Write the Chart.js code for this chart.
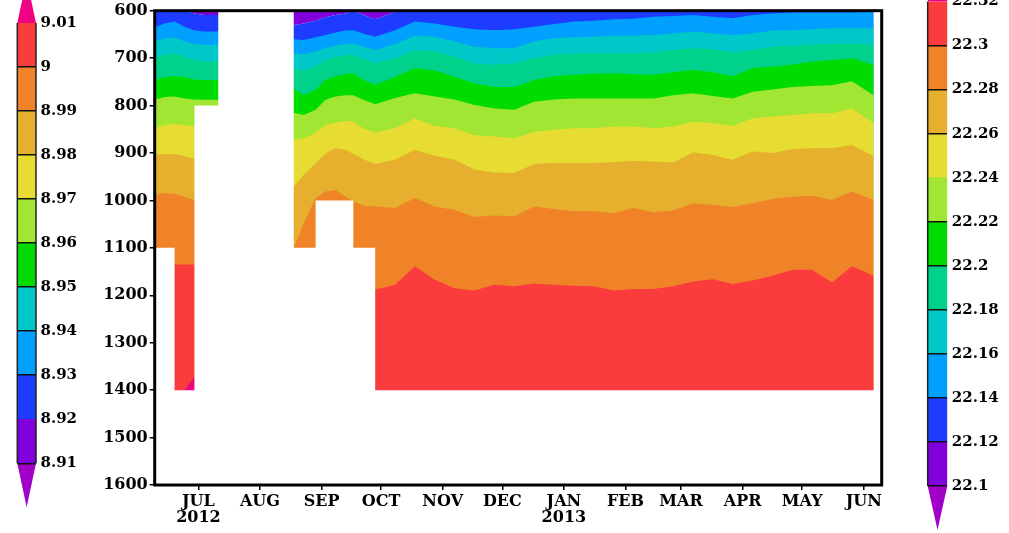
<!DOCTYPE html>
<html>
<head>
<meta charset="utf-8">
<script src="https://cdn.jsdelivr.net/npm/chart.js@4.4.1/dist/chart.umd.min.js"></script>
<style>
  html, body { margin: 0; padding: 0; background: #fff; overflow: hidden; width: 1009px; height: 533px; position: relative; }
  canvas { position: absolute; display: block; }
  #main { left: 0; top: 0; }
  #barL { left: 0; top: -60px; }
  #barR { left: 900px; top: -60px; }
</style>
</head>
<body>
<canvas id="main" width="1009" height="533"></canvas>
<canvas id="barL" width="95" height="653"></canvas>
<canvas id="barR" width="109" height="653"></canvas>
<script>
// ---- time axis: days after 2012-06-23 ----
const days = [0, 5, 10, 15, 20, 25, 32,
  70, 75, 81, 86, 91, 96, 100, 105, 111,
  121, 131, 141, 151, 161, 171, 181, 191, 201, 211, 221, 231, 241, 251, 261, 271, 281, 291, 301, 311, 321, 331, 341, 351, 362];

// ---- depth (m) of each isoline, per sample time ----
const c2212 = [600, 600, 600, 600, 606, 609, 609,
  630, 627, 621, 614, 609, 606, 600, 609, 618,
  603, 600, 600, 600, 600, 601, 601, 600, 600, 600, 600, 600, 600, 600, 600, 600, 600, 600, 600, 600, 600, 600, 600, 600, 600];
const c2214 = [635, 627, 623, 634, 642, 644, 644,
  660, 662, 656, 651, 646, 642, 641, 648, 655,
  641, 623, 627, 634, 639, 641, 639, 634, 628, 623, 621, 618, 617, 613, 611, 609, 613, 616, 609, 606, 604, 604, 604, 604, 600];
const c2216 = [665, 659, 656, 665, 670, 672, 672,
  690, 692, 686, 679, 674, 670, 669, 676, 683,
  670, 653, 655, 665, 676, 679, 679, 665, 658, 656, 655, 653, 653, 651, 648, 644, 648, 651, 648, 642, 641, 639, 637, 637, 637];
const c2218 = [700, 693, 690, 697, 704, 707, 707,
  721, 726, 718, 704, 698, 694, 693, 702, 710,
  701, 684, 686, 697, 711, 714, 711, 700, 693, 690, 690, 690, 690, 688, 683, 679, 681, 688, 683, 676, 674, 672, 670, 669, 672];
const c2220 = [746, 740, 738, 740, 745, 746, 746,
  764, 778, 767, 746, 738, 734, 732, 746, 756,
  740, 721, 726, 739, 753, 761, 761, 746, 738, 735, 733, 732, 734, 735, 730, 725, 730, 738, 721, 718, 714, 707, 704, 700, 714];
const c2222 = [788, 782, 781, 785, 787, 788, 788,
  815, 820, 809, 788, 781, 778, 778, 788, 797,
  784, 774, 781, 787, 799, 806, 809, 792, 787, 785, 785, 785, 785, 785, 778, 774, 780, 785, 771, 766, 761, 759, 757, 749, 778];
const c2224 = [848, 841, 839, 841, 844, 845, 845,
  872, 869, 858, 841, 836, 832, 834, 848, 857,
  848, 827, 843, 848, 862, 865, 869, 855, 851, 848, 848, 844, 844, 848, 844, 834, 837, 843, 827, 823, 820, 816, 816, 806, 837];
const c2226 = [904, 902, 902, 907, 912, 912, 912,
  971, 946, 922, 901, 890, 893, 902, 913, 923,
  914, 893, 906, 914, 935, 941, 942, 923, 921, 921, 921, 919, 917, 918, 920, 899, 904, 914, 897, 900, 892, 890, 890, 883, 907];
const c2228 = [988, 985, 986, 993, 999, 999, 999,
  1100, 1048, 995, 981, 978, 992, 1002, 1011, 1013,
  1016, 995, 1013, 1020, 1035, 1032, 1034, 1013, 1018, 1023, 1023, 1027, 1016, 1025, 1021, 1006, 1009, 1014, 1006, 997, 992, 990, 999, 981, 999];
const c2230 = [1135, 1135, 1135, 1135, 1135, 1135, 1135,
  1190, 1190, 1190, 1190, 1190, 1190, 1190, 1190, 1188,
  1178, 1139, 1167, 1185, 1190, 1178, 1181, 1175, 1178, 1180, 1181, 1190, 1187, 1187, 1181, 1171, 1166, 1176, 1169, 1159, 1146, 1146, 1173, 1139, 1159];
const c2232 = [1400, 1400, 1400, 1400, 1373, 1400, 1400,
  1400, 1400, 1400, 1400, 1400, 1400, 1400, 1400, 1400,
  1400, 1400, 1400, 1400, 1400, 1400, 1400, 1400, 1400, 1400, 1400, 1400, 1400, 1400, 1400, 1400, 1400, 1400, 1400, 1400, 1400, 1400, 1400, 1400, 1400];

// ---- deepest valid depth of the record (no data below it) ----
const maskDays  = [0, 10, 10, 20, 20, 32, 32, 70, 70, 81, 81, 100, 100, 111, 111, 362, 362, 366];
const maskDepth = [1100, 1100, 1400, 1400, 800, 800, 600, 600, 1100, 1100, 1000, 1000, 1100, 1100, 1400, 1400, 600, 600];

// ---- axis ticks ----
const depthTicks = [600, 700, 800, 900, 1000, 1100, 1200, 1300, 1400, 1500, 1600];
const monthNames = ['JUL', 'AUG', 'SEP', 'OCT', 'NOV', 'DEC', 'JAN', 'FEB', 'MAR', 'APR', 'MAY', 'JUN'];
const monthYears = ['2012', '', '', '', '', '', '2013', '', '', '', '', ''];

// ---- colour bar levels ----
const leftLevels  = [8.91, 8.92, 8.93, 8.94, 8.95, 8.96, 8.97, 8.98, 8.99, 9, 9.01];
const rightLevels = [22.1, 22.12, 22.14, 22.16, 22.18, 22.2, 22.22, 22.24, 22.26, 22.28, 22.3, 22.32];
const leftBare  = [8.92, 9.01];
const rightBare = [22.24, 22.32];

// ---- palette ----
const PURPLE = '#8200dc', BLUE = '#1e3cff', AZURE = '#00a0ff', CYAN = '#00c8c8', TEAL = '#00d28c',
      GREEN = '#00dc00', LIME = '#a0e632', YELLOW = '#e6dc32', GOLD = '#e6af2d', ORANGE = '#f08228',
      RED = '#fa3c3c', PINK = '#f00082', VIOLET = '#a000c8';
const FAMILY = "'DejaVu Serif', serif";

// month ticks sit on the 15th of each month
const DAY0 = Date.UTC(2012, 5, 23);
const monthDays = monthNames.map((_, i) => (Date.UTC(2012, 6 + i, 15) - DAY0) / 86400000);

function series(xs, ys) { return xs.map((x, i) => ({ x, y: ys[i] })); }
function band(ys, color, fill) {
  return { data: series(days, ys), backgroundColor: color, fill,
           borderWidth: 0, borderColor: 'rgba(0,0,0,0)', pointRadius: 0, pointHoverRadius: 0, tension: 0 };
}

// Filled bands are painted bottom-up: later datasets are drawn first.
const datasets = [
  { data: series(maskDays, maskDepth), backgroundColor: '#fff', fill: 'start',
    borderWidth: 0, borderColor: 'rgba(0,0,0,0)', pointRadius: 0, tension: 0 },
  band(c2232, PINK, 'start'),
  band(c2230, RED, 'start'),
  band(c2228, ORANGE, 'start'),
  band(c2226, GOLD, 'start'),
  band(c2224, YELLOW, 'start'),
  band(c2222, LIME, 'start'),
  band(c2220, GREEN, 'start'),
  band(c2218, TEAL, 'start'),
  band(c2216, CYAN, 'start'),
  band(c2214, AZURE, 'start'),
  band(c2212, BLUE, 'start'),
  band(c2212, PURPLE, 'end')
];

const frame = {
  id: 'frame',
  afterDatasetsDraw(chart) {
    const { ctx, chartArea: a } = chart;
    ctx.save();
    ctx.strokeStyle = '#000';
    ctx.lineWidth = 3;
    ctx.strokeRect(a.left, a.top, a.right - a.left, a.bottom - a.top);
    ctx.restore();
  }
};

const axisFont = { family: FAMILY, size: 16, weight: 'bold', lineHeight: 1.05 };

new Chart(document.getElementById('main'), {
  type: 'line',
  data: { datasets },
  options: {
    responsive: false, animation: false, devicePixelRatio: 1, events: [],
    layout: { padding: { left: 94.7, right: 127.3, top: 10.7, bottom: 0 } },
    plugins: { legend: { display: false }, tooltip: { enabled: false } },
    scales: {
      x: {
        type: 'linear', min: 0, max: 366,
        afterFit(s) { s.height = 48; },
        afterBuildTicks(s) { s.ticks = monthDays.map(v => ({ value: v })); },
        border: { display: false },
        grid: { drawOnChartArea: false, drawTicks: true, tickLength: 5, color: '#000', lineWidth: 1.5 },
        ticks: { autoSkip: false, maxRotation: 0, padding: 3, color: '#000', font: axisFont,
                 callback: (v, i) => monthYears[i] ? [monthNames[i], monthYears[i]] : monthNames[i] }
      },
      y: {
        type: 'linear', reverse: true, min: 600, max: 1600,
        afterFit(s) { s.width = 60; },
        afterBuildTicks(s) { s.ticks = depthTicks.map(v => ({ value: v })); },
        border: { display: false },
        grid: { drawOnChartArea: false, drawTicks: true, tickLength: 5, color: '#000', lineWidth: 1.5 },
        ticks: { padding: 2, color: '#000', font: axisFont, callback: v => String(v) }
      }
    }
  },
  plugins: [frame]
});

// ---- colour bars ----
const colorbarEnds = {
  id: 'colorbarEnds',
  afterDatasetsDraw(chart, args, opts) {
    const { ctx, chartArea: a } = chart;
    const y = chart.scales.y;
    const cx = (a.left + a.right) / 2;
    ctx.save();
    for (const end of [opts.top, opts.bottom]) {
      const base = y.getPixelForValue(end.from);
      const tip = y.getPixelForValue(end.tip);
      ctx.beginPath();
      ctx.moveTo(a.left, base);
      ctx.lineTo(a.right, base);
      ctx.lineTo(cx, tip);
      ctx.closePath();
      ctx.fillStyle = end.color;
      ctx.fill();
    }
    const yTop = y.getPixelForValue(opts.top.from);
    const yBot = y.getPixelForValue(opts.bottom.from);
    ctx.strokeStyle = '#222';
    ctx.lineWidth = 1.5;
    for (const side of opts.edges) {
      const x = side === 'left' ? a.left : a.right;
      ctx.beginPath();
      ctx.moveTo(x, yTop);
      ctx.lineTo(x, yBot);
      ctx.stroke();
    }
    ctx.restore();
  }
};

function colorbar(id, levels, colors, bare, ends, pad, axisWidth) {
  new Chart(document.getElementById(id), {
    type: 'bar',
    data: {
      labels: [''],
      datasets: colors.map((c, i) => ({
        data: [[levels[i], levels[i + 1]]], backgroundColor: c, borderWidth: 0,
        grouped: false, barPercentage: 1, categoryPercentage: 1
      }))
    },
    options: {
      responsive: false, animation: false, devicePixelRatio: 1, events: [],
      layout: { padding: pad },
      plugins: { legend: { display: false }, tooltip: { enabled: false }, colorbarEnds: ends },
      scales: {
        x: { display: false },
        y: {
          position: 'right', min: levels[0], max: levels[levels.length - 1],
          afterFit(s) { s.width = axisWidth; },
          afterBuildTicks(s) { s.ticks = levels.map(v => ({ value: v })); },
          border: { display: false },
          grid: { z: 1, drawTicks: false, lineWidth: 1.5,
                  color: c => (c.tick && bare.includes(c.tick.value)) ? 'rgba(0,0,0,0)' : '#111' },
          ticks: { padding: 4.5, color: '#000', font: { family: FAMILY, size: 15, weight: 'bold' },
                   callback: v => String(v) }
        }
      }
    },
    plugins: [colorbarEnds]
  });
}

colorbar('barL', leftLevels,
  [PURPLE, BLUE, AZURE, CYAN, GREEN, LIME, YELLOW, GOLD, ORANGE, RED],
  leftBare,
  { top: { from: 9.01, tip: 9.02, color: PINK }, bottom: { from: 8.91, tip: 8.90, color: VIOLET }, edges: ['left', 'right'] },
  { left: 17.3, right: 0, top: 83, bottom: 129.7 }, 59);

colorbar('barR', rightLevels,
  [PURPLE, BLUE, AZURE, CYAN, TEAL, GREEN, LIME, YELLOW, GOLD, ORANGE, RED],
  rightBare,
  { top: { from: 22.32, tip: 22.34, color: PINK }, bottom: { from: 22.1, tip: 22.08, color: VIOLET }, edges: ['left'] },
  { left: 27.7, right: 0, top: 61.5, bottom: 107 }, 61.7);
</script>
</body>
</html>
